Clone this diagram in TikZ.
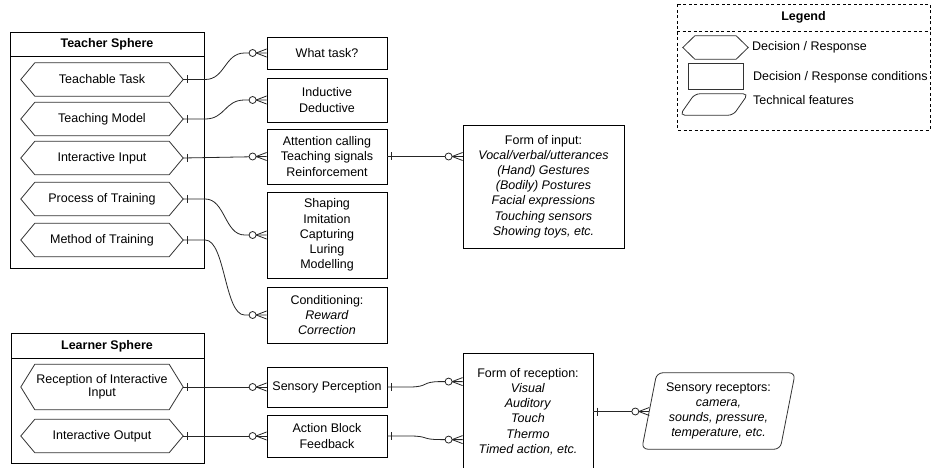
\documentclass[tikz,border=0pt]{standalone}
\usepackage{fontspec}
\setmainfont{Liberation Sans}
\usetikzlibrary{calc}
\newcommand\basefont{\fontsize{12.5}{15.2}\selectfont}
\tikzset{
  erline/.style={line width=0.8pt, black!85},
  shapeline/.style={line width=0.8pt, black!80},
  ent/.style={draw=black, line width=0.8pt, rectangle, inner sep=0pt, align=center, minimum width=120pt},
  hexn/.style={inner sep=0pt, align=center, minimum width=162pt, minimum height=33pt},
  title/.style={font=\basefont\bfseries, inner sep=0pt},
  ltext/.style={anchor=west, inner sep=0pt},
  legdash/.style={line width=0.7pt, dash pattern=on 3pt off 2.5pt},
}
\newcommand\hexat[2]{\draw[shapeline] (#1.west) -- ([xshift=#2]#1.north west) -- ([xshift=-#2]#1.north east) -- (#1.east) -- ([xshift=-#2]#1.south east) -- ([xshift=#2]#1.south west) -- cycle;}
\newcommand\parat[3]{\draw[shapeline, rounded corners=#3] ($(#1.south west)!0.5!(#1.south east)$) -- (#1.south west) -- ($(#1.north west)+(#2,0)$) -- (#1.north east) -- ($(#1.south east)+(-#2,0)$) -- cycle;}
\newcommand\oneend[1]{\draw[erline] ($#1+(4,-4)$) -- ($#1+(4,4)$);}
\newcommand\manyend[1]{\draw[erline] ($#1+(-10.5,0)$) -- ($#1+(0,-4)$) ($#1+(-10.5,0)$) -- ($#1+(0,4)$); \draw[erline,fill=white] ($#1+(-14,0)$) circle[radius=3.5pt];}
\newcommand\curveconn[2]{\draw[erline] #1 -- ++(22,0) .. controls +(20,0) and +(-20,0) .. ($#2+(-22,0)$) -- #2;}
\begin{document}
\begin{tikzpicture}[x=1pt, y=-1pt, font=\basefont]
\fill[white] (0,0) rectangle (938,468);
\useasboundingbox (0,0) rectangle (938,468);

% Teacher sphere
\draw[line width=0.8pt] (10.5,32) rectangle (204,268);
\draw[line width=0.8pt] (10.5,56) -- (204,56);
\node[title] (tst) at (107,44) {Teacher Sphere};
\node[hexn] (tt) at (102,79.5) {Teachable Task};
\node[hexn] (tm) at (102,119) {Teaching Model};
\node[hexn] (ii) at (102,158) {Interactive Input};
\node[hexn] (pt) at (102,199) {Process of Training};
\node[hexn] (mt) at (102,240) {Method of Training};
\hexat{tt}{14pt}\hexat{tm}{14pt}\hexat{ii}{14pt}\hexat{pt}{14pt}\hexat{mt}{14pt}

% Learner sphere
\draw[line width=0.8pt] (11,333) rectangle (204,463);
\draw[line width=0.8pt] (11,358) -- (204,358);
\node[title] (lst) at (107,346) {Learner Sphere};
\node[hexn, minimum height=45pt] (rec) at (102,387) {Reception of Interactive\\[-2.5pt]Input};
\node[hexn] (io) at (102,436) {Interactive Output};
\hexat{rec}{14pt}\hexat{io}{14pt}

% Entities
\node[ent, minimum height=32pt] (wt) at (327,53) {What task?};
\node[ent, minimum height=44pt] (ind) at (327,100) {Inductive\\Deductive};
\node[ent, minimum height=55pt] (att) at (327,156.5) {Attention calling\\Teaching signals\\Reinforcement};
\node[ent, minimum height=86pt] (shp) at (327,235) {Shaping\\Imitation\\Capturing\\Luring\\Modelling};
\node[ent, minimum height=56pt] (cnd) at (327,315) {Conditioning:\\\textit{Reward}\\\textit{Correction}};
\node[ent, minimum height=40pt] (sp) at (327,387) {Sensory Perception};
\node[ent, minimum height=42pt] (ab) at (327,436) {Action Block\\Feedback};
\node[ent, minimum width=161pt, minimum height=123pt] (foi) at (543.5,186.5) {Form of input:\\\textit{Vocal/verbal/utterances}\\\textit{(Hand) Gestures}\\\textit{(Bodily) Postures}\\\textit{Facial expressions}\\\textit{Touching sensors}\\\textit{Showing toys, etc.}};
\node[ent, minimum width=130pt, minimum height=117pt] (frc) at (528,411.5) {Form of reception:\\\textit{Visual}\\\textit{Auditory}\\\textit{Touch}\\\textit{Thermo}\\\textit{Timed action, etc.}};
\node[inner sep=0pt, align=center, minimum width=153pt, minimum height=76pt] (sr) at (718.5,411) {Sensory receptors:\\\textit{camera,}\\\textit{sounds, pressure,}\\\textit{temperature, etc.}};
\parat{sr}{15}{6pt}

% Connectors
\curveconn{(tt.east)}{(wt.west)}
\oneend{(tt.east)}\manyend{(wt.west)}
\curveconn{(tm.east)}{(ind.west)}
\oneend{(tm.east)}\manyend{(ind.west)}
\draw[erline] (ii.east) -- (att.west);
\oneend{(ii.east)}\manyend{(att.west)}
\curveconn{(pt.east)}{(shp.west)}
\oneend{(pt.east)}\manyend{(shp.west)}
\curveconn{(mt.east)}{(cnd.west)}
\oneend{(mt.east)}\manyend{(cnd.west)}
\coordinate (foiin) at (foi.west |- att.east);
\draw[erline] (att.east) -- (foiin);
\oneend{(att.east)}\manyend{(foiin)}

\draw[erline] (rec.east) -- (sp.west);
\oneend{(rec.east)}\manyend{(sp.west)}
\draw[erline] (io.east) -- (ab.west);
\oneend{(io.east)}\manyend{(ab.west)}
\coordinate (frc1) at ($(frc.north west)+(0,29)$);
\coordinate (frc2) at ($(frc.north west)+(0,87)$);
\curveconn{(sp.east)}{(frc1)}
\oneend{(sp.east)}\manyend{(frc1)}
\curveconn{(ab.east)}{(frc2)}
\oneend{(ab.east)}\manyend{(frc2)}
\coordinate (srw) at ($(sr.west)+(7.5,0)$);
\coordinate (srin) at (frc.east -| srw);
\draw[erline] (frc.east) -- (srin);
\oneend{(frc.east)}\manyend{(srin)}

% Legend
\draw[legdash] (677,4.5) rectangle (930,130);
\draw[legdash] (677,31) -- (930,31);
\node[title] (lgt) at (803.5,17.5) {Legend};
\node[inner sep=0pt, minimum width=65pt, minimum height=23pt] (lh) at (715.5,47.5) {};
\hexat{lh}{12pt}
\node[ltext] (lht) at (752,47.5) {Decision / Response};
\node[draw=black!80, line width=0.8pt, inner sep=0pt, minimum width=55pt, minimum height=26pt] (lr) at (715.5,76) {};
\node[ltext] (lrt) at (753,77) {Decision / Response conditions};
\node[inner sep=0pt, minimum width=68pt, minimum height=21pt] (lp) at (714,104.5) {};
\parat{lp}{15}{5pt}
\node[ltext] (lpt) at (753,100.5) {Technical features};
\end{tikzpicture}
\end{document}
